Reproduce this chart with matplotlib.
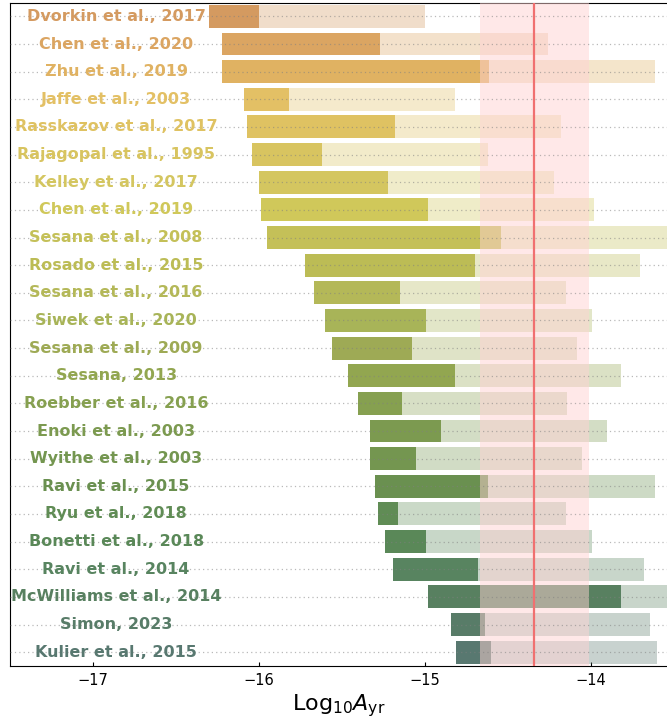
import matplotlib
matplotlib.use("Agg")
import matplotlib.pyplot as plt

papers = ["Dvorkin et al., 2017", "Chen et al., 2020", "Zhu et al., 2019", "Jaffe et al., 2003",
          "Rasskazov et al., 2017", "Rajagopal et al., 1995", "Kelley et al., 2017", "Chen et al., 2019",
          "Sesana et al., 2008", "Rosado et al., 2015", "Sesana et al., 2016", "Siwek et al., 2020",
          "Sesana et al., 2009", "Sesana, 2013", "Roebber et al., 2016", "Enoki et al., 2003",
          "Wyithe et al., 2003", "Ravi et al., 2015", "Ryu et al., 2018", "Bonetti et al., 2018",
          "Ravi et al., 2014", "McWilliams et al., 2014", "Simon, 2023", "Kulier et al., 2015"]

lower = [-16.30, -16.22, -16.22, -16.09, -16.07, -16.04, -16.00, -15.99,
         -15.95, -15.72, -15.67, -15.60, -15.56, -15.46, -15.40, -15.33,
         -15.33, -15.30, -15.28, -15.24, -15.19, -14.98, -14.84, -14.81]
upper = [-16.00, -15.27, -14.61, -15.82, -15.18, -15.62, -15.22, -14.98,
         -14.54, -14.70, -15.15, -14.99, -15.08, -14.82, -15.14, -14.90,
         -15.05, -14.62, -15.16, -14.99, -14.68, -13.82, -14.64, -14.60]
extended = [-15.00, -14.26, -13.61, -14.82, -14.18, -14.62, -14.22, -13.98,
            -13.54, -13.70, -14.15, -13.99, -14.08, -13.82, -14.14, -13.90,
            -14.05, -13.61, -14.15, -13.99, -13.68, -12.82, -13.64, -13.60]

colors = ["#d49a60", "#dba562", "#e0b262", "#e3c065", "#dfc262", "#d8c460", "#d4c660", "#d0c85a",
          "#c4c058", "#bcbc55", "#b4b858", "#a8b458", "#9eaa55", "#92a650", "#86a050", "#7c9a50",
          "#749650", "#6a9050", "#608c55", "#5a8858", "#588460", "#588060", "#587c68", "#587870"]

nanograv_center = -14.34
nanograv_lo = -14.67
nanograv_hi = -14.01

fig = plt.figure(figsize=(6.67, 7.24), dpi=100)
ax = fig.add_axes([0.015, 0.0801, 0.985, 0.9164])

n = len(papers)
ys = list(range(n))
h = 0.83
for i in range(n):
    ax.barh(ys[i], extended[i] - lower[i], left=lower[i], height=h,
            color=colors[i], alpha=0.33, linewidth=0, zorder=2)
    ax.barh(ys[i], upper[i] - lower[i], left=lower[i], height=h,
            color=colors[i], alpha=1.0, linewidth=0, zorder=3)
    ax.text(-16.86, ys[i], papers[i], ha="center", va="center", color=colors[i],
            fontsize=11.5, fontweight="bold", zorder=6)
    ax.axhline(ys[i], color="gray", linestyle=(0, (1, 2.5)), linewidth=0.9, alpha=0.55, zorder=5)

ax.axvspan(nanograv_lo, nanograv_hi, color="#ffd3d3", alpha=0.5, linewidth=0, zorder=4)
ax.axvline(nanograv_center, color="#f07070", linewidth=1.6, zorder=5)

ax.set_xlim(-17.5, -13.54)
ax.set_ylim(n - 0.5, -0.5)
ax.set_yticks([])
ax.set_xticks([-17, -16, -15, -14])
ax.tick_params(axis="x", labelsize=10.5, length=3, direction="in", pad=5)
ax.spines["right"].set_visible(False)
ax.set_xlabel(r"Log$_{10}A_{\rm yr}$", fontsize=16, labelpad=3)

fig.savefig("out.png", dpi=100)
